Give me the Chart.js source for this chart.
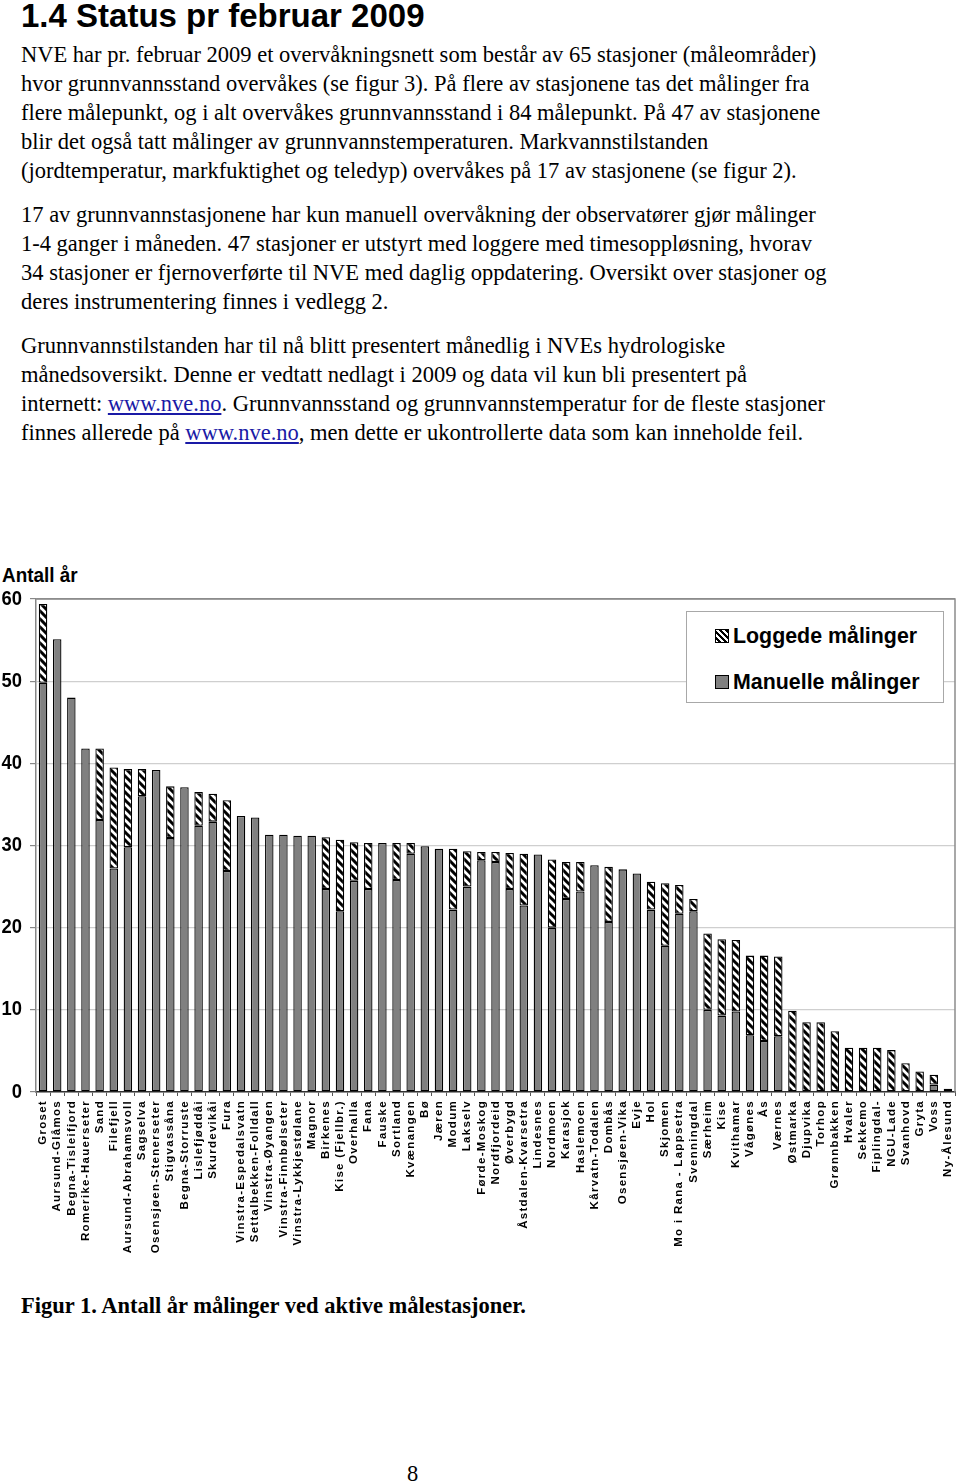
<!DOCTYPE html>
<html><head><meta charset="utf-8">
<script src="https://cdn.jsdelivr.net/npm/chart.js@4.4.1/dist/chart.umd.min.js"></script>
<style>
html,body{margin:0;padding:0;background:#fff;}
body{width:960px;height:1483px;position:relative;overflow:hidden;color:#000;}
.h{position:absolute;left:21px;top:-1px;font:bold 33px/33px "Liberation Sans",Arial,sans-serif;white-space:nowrap;}
.p{position:absolute;left:21px;font:22.5px/29px "Liberation Serif","Times New Roman",serif;white-space:nowrap;}
.p a{color:#1a1aa6;text-decoration:underline;}
.cap{position:absolute;left:21px;top:1291px;font:bold 22.5px/29px "Liberation Serif","Times New Roman",serif;white-space:nowrap;}
.pg{position:absolute;left:407px;top:1459px;font:22.5px/29px "Liberation Serif","Times New Roman",serif;}
.yt{position:absolute;left:2px;top:564px;font:bold 21px/21px "Liberation Sans",Arial,sans-serif;white-space:nowrap;transform:scaleX(0.9);transform-origin:0 0;}
#wrap{position:absolute;left:0;top:555px;width:960px;height:710px;}
#legend{position:absolute;left:686px;top:611px;width:256px;height:90px;border:1px solid #a8a8a8;background:#fff;
 font:bold 22.5px/22.5px "Liberation Sans",Arial,sans-serif;}
.li{position:absolute;left:28px;height:22.5px;display:flex;align-items:center;white-space:nowrap;}
.sw{width:14px;height:14px;border:1px solid #000;margin-right:4px;box-sizing:border-box;flex:none;}
.sw.hat{background:repeating-linear-gradient(45deg,#fff 0 2px,#000 2px 4.2px);}
.sw.man{background:#808080;}
.tx{display:inline-block;transform:scaleX(0.95);transform-origin:0 50%;}
</style></head>
<body>
<div class="h">1.4 Status pr februar 2009</div>
<div class="p" style="top:40px">NVE har pr. februar 2009 et overvåkningsnett som består av 65 stasjoner (måleområder)<br>hvor grunnvannsstand overvåkes (se figur 3). På flere av stasjonene tas det målinger fra<br>flere målepunkt, og i alt overvåkes grunnvannsstand i 84 målepunkt. På 47 av stasjonene<br>blir det også tatt målinger av grunnvannstemperaturen. Markvannstilstanden<br>(jordtemperatur, markfuktighet og teledyp) overvåkes på 17 av stasjonene (se figur 2).</div>
<div class="p" style="top:200px">17 av grunnvannstasjonene har kun manuell overvåkning der observatører gjør målinger<br>1-4 ganger i måneden. 47 stasjoner er utstyrt med loggere med timesoppløsning, hvorav<br>34 stasjoner er fjernoverførte til NVE med daglig oppdatering. Oversikt over stasjoner og<br>deres instrumentering finnes i vedlegg 2.</div>
<div class="p" style="top:331px">Grunnvannstilstanden har til nå blitt presentert månedlig i NVEs hydrologiske<br>månedsoversikt. Denne er vedtatt nedlagt i 2009 og data vil kun bli presentert på<br>internett: <a>www.nve.no</a>. Grunnvannsstand og grunnvannstemperatur for de fleste stasjoner<br>finnes allerede på <a>www.nve.no</a>, men dette er ukontrollerte data som kan inneholde feil.</div>

<div class="yt">Antall år</div>
<div id="wrap"><canvas id="c" width="960" height="710"></canvas></div>
<div id="legend">
 <div class="li" style="top:13px"><span class="sw hat"></span><span class="tx">Loggede målinger</span></div>
 <div class="li" style="top:59px"><span class="sw man"></span><span class="tx">Manuelle målinger</span></div>
</div>

<div class="cap">Figur 1. Antall år målinger ved aktive målestasjoner.</div>
<div class="pg">8</div>

<script>
const stations = ["Groset","Aursund-Glåmos","Begna-Tisleifjord","Romerike-Hauerseter","Sand","Filefjell",
"Aursund-Abrahamsvoll","Sagselva","Osensjøen-Stenerseter","Stigvassåna","Begna-Storruste","Lislefjøddåi",
"Skurdevikåi","Fura","Vinstra-Espedalsvatn","Settalbekken-Folldall","Vinstra-Øyangen","Vinstra-Finnbølseter",
"Vinstra-Lykkjestølane","Magnor","Birkenes","Kise (Fjellbr.)","Overhalla","Fana","Fauske","Sortland",
"Kvænangen","Bø","Jæren","Modum","Lakselv","Førde-Moskog","Nordfjordeid","Øverbygd","Åstdalen-Kvarsetra",
"Lindesnes","Nordmoen","Karasjok","Haslemoen","Kårvatn-Todalen","Dombås","Osensjøen-Vika","Evje","Hol",
"Skjomen","Mo i Rana - Lappsetra","Svenningdal","Særheim","Kise","Kvithamar","Vågønes","Ås","Værnes",
"Østmarka","Djupvika","Torhop","Grønnbakken","Hvaler","Sekkemo","Fiplingdal-","NGU-Lade","Svanhovd",
"Gryta","Voss","Ny-Ålesund"];

const manualYears = [49.8,55.1,48.0,41.8,33.1,27.2,29.8,36.0,39.2,30.9,37.1,32.4,32.9,26.9,33.6,33.4,31.3,31.3,
31.2,31.2,24.7,22.0,25.7,24.7,30.3,25.8,29.0,29.9,29.6,22.2,25.0,28.2,28.0,24.7,22.7,28.9,20.0,23.5,24.4,27.6,
20.7,27.1,26.6,22.2,17.8,21.7,22.0,10.0,9.3,9.8,6.9,6.2,6.8,0,0,0,0,0,0,0,0,0,0,0.9,0];

const loggedYears = [9.6,0,0,0,8.7,12.3,9.5,3.3,0,6.3,0,4.1,3.4,8.6,0,0,0,0,0,0,6.3,8.7,4.7,5.6,0,4.5,1.3,0,0,
7.4,4.3,1.0,1.2,4.4,6.3,0,8.3,4.5,3.6,0,6.7,0,0,3.4,7.6,3.5,1.5,9.3,9.3,8.7,9.7,10.4,9.7,9.9,8.5,8.5,7.4,5.4,
5.4,5.4,5.1,3.5,2.5,1.2,0.4];

const yTicks = [0,10,20,30,40,50,60];

function hatchPattern(){
  const c=document.createElement('canvas'); c.width=c.height=8;
  const x=c.getContext('2d');
  x.fillStyle='#fff'; x.fillRect(0,0,8,8);
  x.strokeStyle='#000'; x.lineWidth=3; x.lineCap='square';
  x.beginPath();
  x.moveTo(-1,-1); x.lineTo(9,9);
  x.moveTo(-5,3); x.lineTo(5,13);
  x.moveTo(3,-5); x.lineTo(13,5);
  x.stroke();
  return x.createPattern(c,'repeat');
}

class SpacedCategory extends Chart.CategoryScale {
  _calculatePadding(){ this.paddingLeft=0; this.paddingRight=0; this.paddingTop=0; this.paddingBottom=0; }
  drawLabels(area){
    const ctx=this.ctx; ctx.save(); ctx.letterSpacing='1.3px';
    super.drawLabels(area); ctx.restore();
  }
}
SpacedCategory.id='spacedCategory';

const Y_TICK_LEN = 6, Y_TICK_PAD = 8;
class NarrowLinear extends Chart.LinearScale {
  _computeLabelArea(){ return undefined; }
  drawLabels(area){
    const ctx=this.ctx; const ax=this.right - Y_TICK_LEN - Y_TICK_PAD;
    ctx.save(); ctx.translate(ax,0); ctx.scale(0.92,1); ctx.translate(-ax,0);
    super.drawLabels(area); ctx.restore();
  }
}
NarrowLinear.id='narrowLinear';
Chart.register(SpacedCategory, NarrowLinear);

const frame = {
  id:'frame',
  afterDraw(chart){
    const {ctx, chartArea:a}=chart;
    ctx.save(); ctx.strokeStyle='#8c8c8c'; ctx.lineWidth=1.5;
    ctx.beginPath(); ctx.moveTo(a.left,a.top); ctx.lineTo(a.right,a.top); ctx.lineTo(a.right,a.bottom); ctx.stroke();
    ctx.restore();
  }
};

const CANVAS_H = 710, TOP_AREA = 44, AREA_H = 493;

new Chart(document.getElementById('c'), {
  type:'bar',
  data:{
    labels:stations,
    datasets:[
      {label:'Manuelle målinger', data:manualYears, backgroundColor:'#808080', borderColor:'#000', borderWidth:1.3, borderSkipped:false},
      {label:'Loggede målinger', data:loggedYears, backgroundColor:hatchPattern(), borderColor:'#000', borderWidth:1.3, borderSkipped:false}
    ]
  },
  options:{
    responsive:false, animation:false, devicePixelRatio:1,
    layout:{padding:{left:0,right:5,top:TOP_AREA,bottom:0}},
    datasets:{bar:{categoryPercentage:1, barPercentage:0.6}},
    plugins:{ legend:{display:false}, tooltip:{enabled:false}, title:{display:false} },
    scales:{
      x:{type:'spacedCategory', stacked:true,
        grid:{offset:true, drawOnChartArea:false, tickLength:4, color:'#555', lineWidth:1},
        border:{color:'#333', width:1.5},
        ticks:{autoSkip:false, minRotation:90, maxRotation:90, color:'#000', padding:4,
          font:{family:'"Liberation Sans",Arial,sans-serif', size:11.5, weight:'bold'}},
        afterFit(s){ s.height = CANVAS_H - TOP_AREA - AREA_H; }
      },
      y:{type:'narrowLinear', stacked:true, min:0, max:60,
        afterBuildTicks(s){ s.ticks = yTicks.map(v=>({value:v})); },
        grid:{color:(c)=> c.tick && c.tick.value===60 ? '#8c8c8c' : '#cfcfcf', lineWidth:1.2, tickLength:Y_TICK_LEN, tickColor:'#888'},
        border:{color:'#888', width:1.5},
        ticks:{color:'#000', padding:Y_TICK_PAD, font:{family:'"Liberation Sans",Arial,sans-serif', size:20, weight:'bold'}},
        afterFit(s){ s.width = 36; }
      }
    }
  },
  plugins:[frame]
});
</script>
</body></html>
